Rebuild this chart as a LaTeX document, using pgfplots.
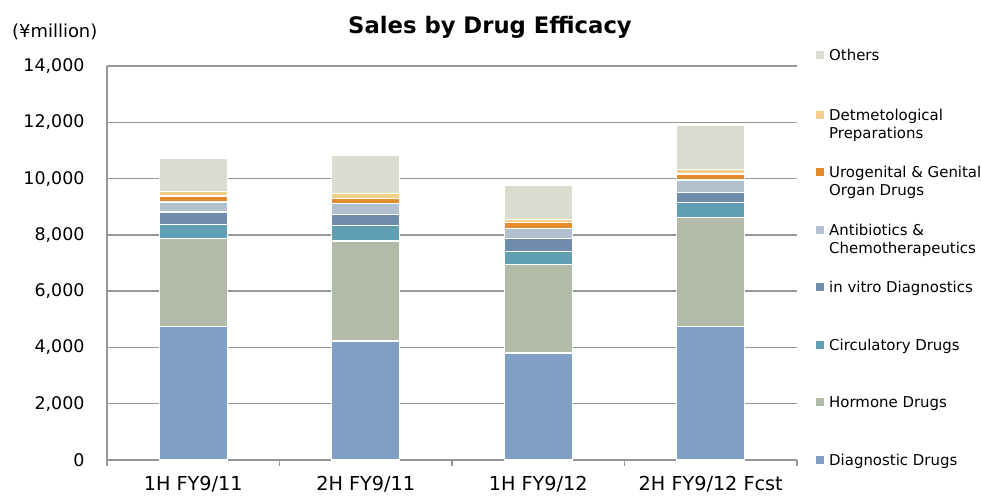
\documentclass[border=0pt]{standalone}
\usepackage{pgfplots}
\pgfplotsset{compat=1.18}
\usepackage{fontspec}
\setmainfont{DejaVu Sans}
\usetikzlibrary{calc}
\definecolor{cdiag}{RGB}{127,159,195}
\definecolor{chorm}{RGB}{178,187,168}
\definecolor{ccirc}{RGB}{95,158,179}
\definecolor{cvitro}{RGB}{111,140,175}
\definecolor{canti}{RGB}{178,191,204}
\definecolor{curo}{RGB}{230,138,46}
\definecolor{cderm}{RGB}{242,206,138}
\definecolor{coth}{RGB}{216,221,207}
\definecolor{gridgray}{RGB}{150,150,150}
\newcommand{\lf}{\fontsize{15}{18}\selectfont}
\begin{document}
\begin{tikzpicture}[x=1bp,y=1bp]
\begin{axis}[
  name=ax, at={(107bp,38bp)}, anchor=south west,
  scale only axis, width=690bp, height=394bp,
  ybar stacked, bar width=68bp,
  xmin=-0.5, xmax=3.5, ymin=0, ymax=14000,
  xtick={-0.5,0.5,1.5,2.5,3.5},
  x tick label as interval,
  xticklabels={1H FY9/11, 2H FY9/11, 1H FY9/12, 2H FY9/12 Fcst},
  ytick={0,2000,...,14000},
  scaled y ticks=false,
  yticklabel={\pgfmathprintnumber[fixed,precision=0,1000 sep={,}]{\tick}},
  ymajorgrids,
  grid style={line width=1.5bp, draw=gridgray},
  axis x line*=bottom, axis y line*=left,
  axis line style={line width=1.5bp, draw=gridgray, -},
  tick align=outside,
  major tick length=6bp,
  xtick style={draw=gridgray, line width=1.5bp},
  ytick style={draw=none},
  /pgf/number format/assume math mode=true,
  y tick label style={font=\fontsize{17.5}{20}\selectfont, xshift=-13bp},
  x tick label style={font=\fontsize{19.3}{22}\selectfont, yshift=-7bp},
  clip=false,
]
\addplot[fill=cdiag, draw=white, line width=1.2bp] coordinates {(0,4740) (1,4230) (2,3800) (3,4740)};
\addplot[fill=chorm, draw=white, line width=1.2bp] coordinates {(0,3120) (1,3550) (2,3150) (3,3880)};
\addplot[fill=ccirc, draw=white, line width=1.2bp] coordinates {(0,510) (1,540) (2,450) (3,520)};
\addplot[fill=cvitro, draw=white, line width=1.2bp] coordinates {(0,440) (1,390) (2,480) (3,360)};
\addplot[fill=canti, draw=white, line width=1.2bp] coordinates {(0,360) (1,390) (2,350) (3,450)};
\addplot[fill=curo, draw=white, line width=1.2bp] coordinates {(0,210) (1,200) (2,200) (3,210)};
\addplot[fill=cderm, draw=white, line width=1.2bp] coordinates {(0,150) (1,180) (2,120) (3,150)};
\addplot[fill=coth, draw=white, line width=1.2bp] coordinates {(0,1170) (1,1360) (2,1200) (3,1590)};
\end{axis}
% title and unit
\node[font=\fontsize{22.8}{26}\selectfont\bfseries] at (490,471) {Sales by Drug Efficacy};
\node[font=\fontsize{18}{21}\selectfont, anchor=west, inner sep=0pt] at (12,466) {(¥million)};
% legend
\foreach \c/\yc/\la/\lb in {
  coth/55/Others/,
  cderm/115/Detmetological/Preparations,
  curo/172/Urogenital \& Genital/Organ Drugs,
  canti/230/Antibiotics \&/Chemotherapeutics,
  cvitro/287/in vitro Diagnostics/,
  ccirc/345/Circulatory Drugs/,
  chorm/402/Hormone Drugs/,
  cdiag/460/Diagnostic Drugs/}{
  \fill[\c] (816,{498-\yc-4}) rectangle ++(8,8);
  \node[font=\lf, anchor=base west, inner sep=0pt] at (829,{498-\yc-5.5}) {\la};
  \node[font=\lf, anchor=base west, inner sep=0pt] at (829,{498-\yc-5.5-18.5}) {\lb};
}
\pgfresetboundingbox
\path[use as bounding box] (0,0) rectangle (981,498);
\end{tikzpicture}
\end{document}
